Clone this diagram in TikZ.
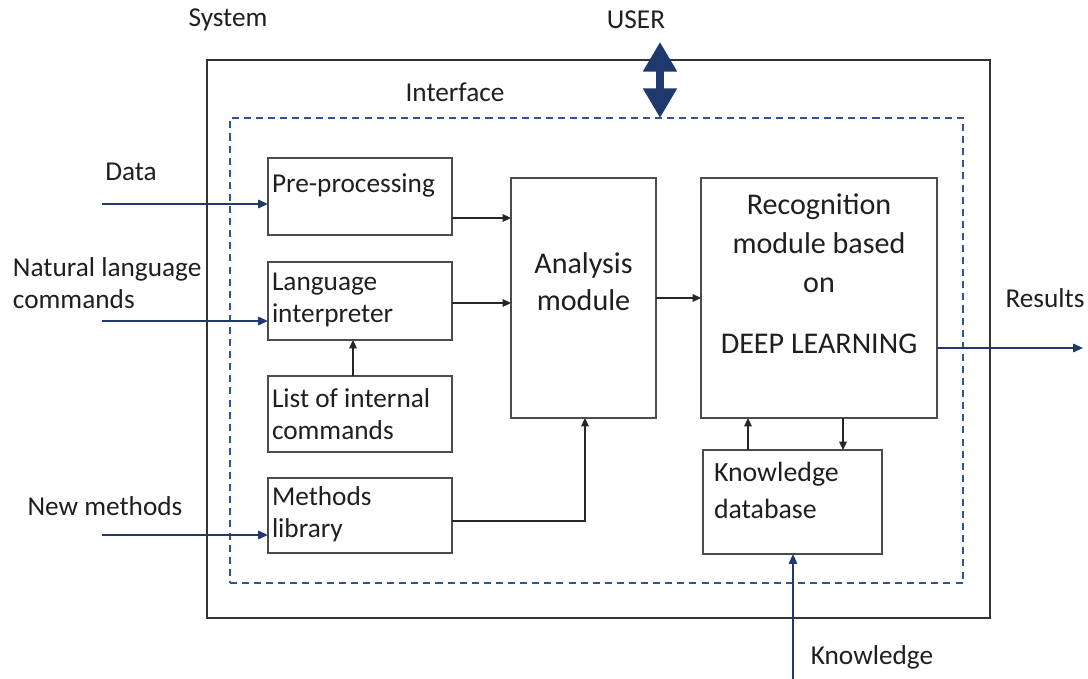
\documentclass[tikz,border=0pt]{standalone}
\usepackage{fontspec}
\setmainfont{Carlito}
\usetikzlibrary{arrows.meta}
\definecolor{navy}{RGB}{31,56,110}
\definecolor{dashblue}{RGB}{47,85,151}
\definecolor{ink}{RGB}{30,30,36}
\begin{document}
\begin{tikzpicture}[x=0.025cm, y=-0.025cm, line cap=butt, line join=miter,
    txt/.style={inner sep=0pt, outer sep=0pt, text=ink, font=\fontsize{19.4}{22.8}\selectfont},
    wide/.style={font=\fontsize{21.4}{26.3}\selectfont},
    box/.style={draw=black!70, line width=0.9pt, inner sep=0pt, outer sep=0pt},
    sysbox/.style={draw=black!80, line width=1.6pt, inner sep=0pt, outer sep=0pt},
    ifbox/.style={draw=dashblue, line width=1.2pt, dash pattern=on 5pt off 3.6pt, inner sep=0pt, outer sep=0pt},
    arr/.style={line width=0.9pt, draw=black!85, -{Triangle[length=6pt,width=5.5pt]}},
    inarr/.style={line width=1.3pt, draw=navy, -{Triangle[length=7pt,width=6pt]}},
    userarr/.style={line width=5pt, draw=navy, {Triangle[length=21pt,width=23pt]}-{Triangle[length=21pt,width=23pt]}}]
  \useasboundingbox (0,0) rectangle (1088,679);
  \node[sysbox, minimum width=19.575cm, minimum height=13.95cm] (sys) at (598.5,339) {};
  \node[ifbox, minimum width=18.325cm, minimum height=11.625cm] (iface) at (596.5,350.5) {};
  \node[box, minimum width=4.6cm, minimum height=1.925cm] (pre) at (360,196.5) {};
  \node[box, minimum width=4.6cm, minimum height=1.95cm] (lang) at (360,301) {};
  \node[box, minimum width=4.6cm, minimum height=1.9cm] (list) at (360,414) {};
  \node[box, minimum width=4.6cm, minimum height=1.875cm] (meth) at (360,515.5) {};
  \node[box, minimum width=3.625cm, minimum height=6cm] (ana) at (583.5,298) {};
  \node[box, minimum width=5.9cm, minimum height=6cm] (rec) at (819,298) {};
  \node[box, minimum width=4.475cm, minimum height=2.6cm] (kdb) at (792.5,502) {};
  \node[txt] (systx) at (228,20) {System};
  \node[txt] (usertx) at (636,20) {USER};
  \node[txt] (ifacetx) at (455,92) {Interface};
  \node[txt] (datatx) at (131,172) {Data};
  \node[txt, anchor=west, align=left] (nltx) at (13,283) {Natural language\\commands};
  \node[txt] (nmtx) at (105,506) {New methods};
  \node[txt] (restx) at (1045,298) {Results};
  \node[txt] (kntx) at (872,657) {Knowledge};
  \node[txt, anchor=west] (pretx) at (272,185) {Pre-processing};
  \node[txt, anchor=west, align=left] (langtx) at (272,300) {Language\\interpreter};
  \node[txt, anchor=west, align=left] (listtx) at (272,414) {List of internal\\commands};
  \node[txt, anchor=west, align=left] (methtx) at (272,514.5) {Methods\\library};
  \node[txt, wide, align=center] (anatx) at (583.5,281.5) {Analysis\\module};
  \node[txt, align=center, font=\fontsize{21.4}{27.7}\selectfont] (rectx) at (819,273.5) {Recognition\\module based\\on\\[16pt]DEEP LEARNING};
  \node[txt, font=\fontsize{19.8}{26.3}\selectfont, anchor=west, align=left] (kdbtx) at (714,490.5) {Knowledge\\database};
  \coordinate (user) at (660,42);
  \coordinate (din) at (102,204);
  \coordinate (nlin) at (102,321);
  \coordinate (nmin) at (102,535);
  \coordinate (rout) at (1083,348);
  \coordinate (kin) at (793,679);
  \draw[userarr] (user) -- (user |- iface.north);
  \draw[inarr] (din) -- (din -| pre.west);
  \draw[inarr] (nlin) -- (nlin -| lang.west);
  \draw[inarr] (nmin) -- (nmin -| meth.west);
  \draw[inarr] (rout -| rec.east) -- (rout);
  \draw[inarr] (kin) -- (kin |- kdb.south);
  \draw[arr] ([shift={(0,21.5)}]pre.east) coordinate (p1) -- (p1 -| ana.west);
  \draw[arr] ([shift={(0,2)}]lang.east) coordinate (p2) -- (p2 -| ana.west);
  \draw[arr] ([shift={(-7,0)}]list.north) coordinate (p3) -- (p3 |- lang.south);
  \draw[arr] ([shift={(0,5.5)}]meth.east) -| ([shift={(1.5,0)}]ana.south);
  \draw[arr] (ana.east) -- (rec.west);
  \draw[arr] ([shift={(-44.5,0)}]kdb.north) coordinate (p4) -- (p4 |- rec.south);
  \draw[arr] ([shift={(50.5,0)}]kdb.north |- rec.south) -- ([shift={(50.5,0)}]kdb.north);
\end{tikzpicture}
\end{document}
